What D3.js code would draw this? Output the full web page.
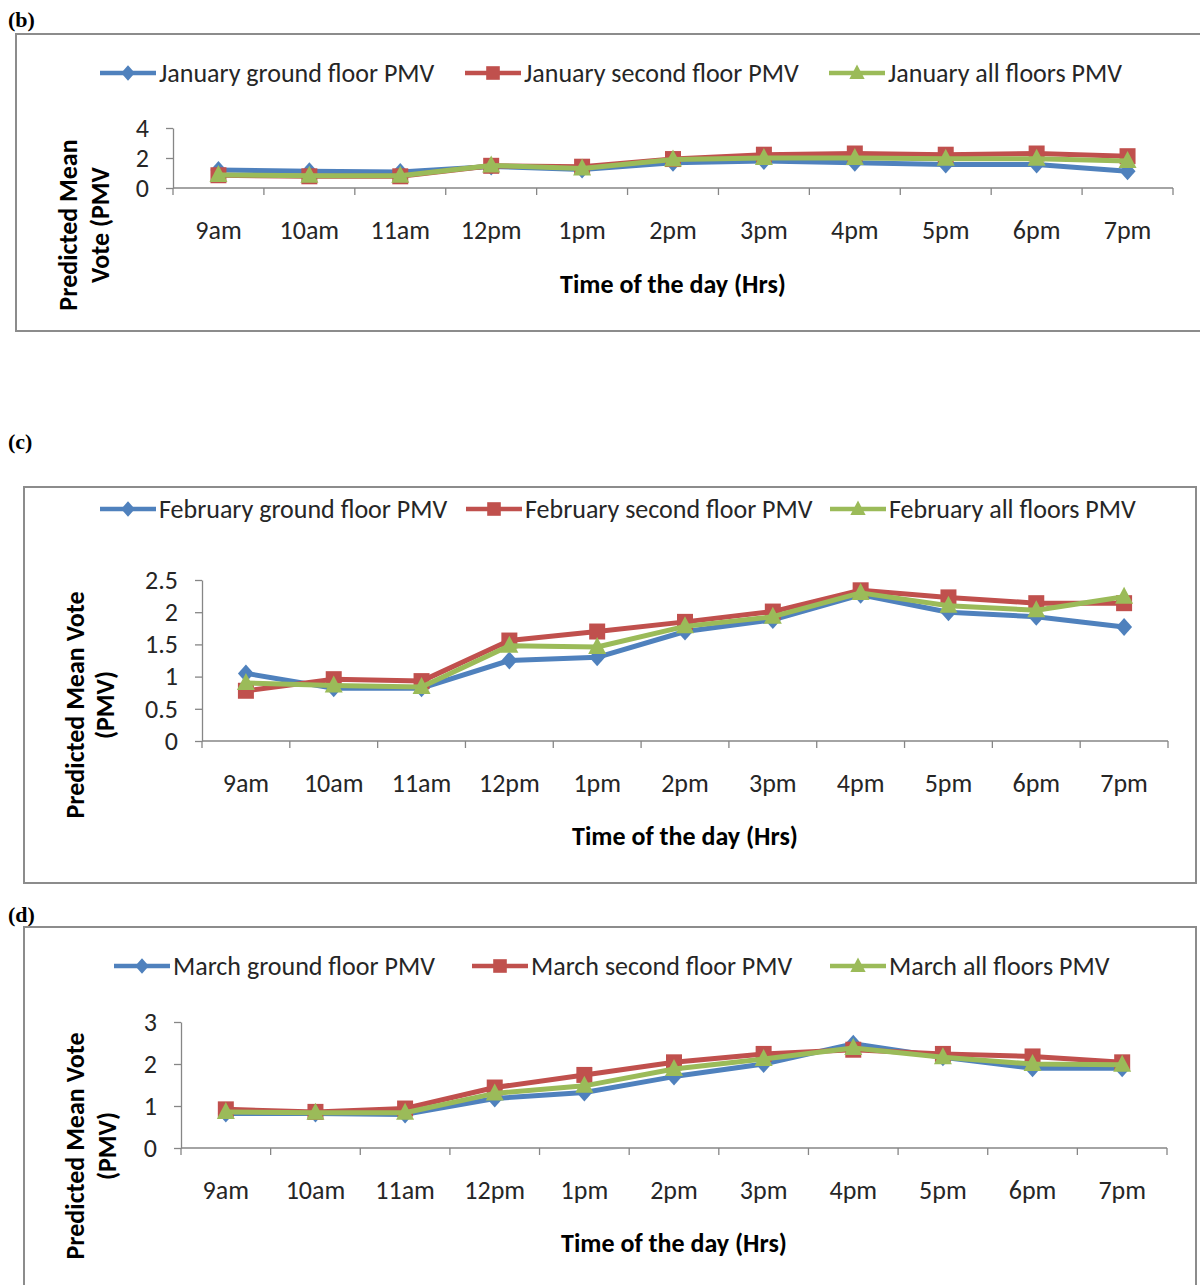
<!DOCTYPE html>
<html>
<head>
<meta charset="utf-8">
<script src="https://cdn.jsdelivr.net/npm/d3@7"></script>
<style>
  html, body { margin: 0; padding: 0; background: #fff; }
  svg { display: block; }
</style>
</head>
<body>
<svg id="chart" width="1200" height="1285"></svg>
<script>
// Hours of the survey day
const hours = ["9am", "10am", "11am", "12pm", "1pm", "2pm", "3pm", "4pm", "5pm", "6pm", "7pm"];

// January PMV
const janGround = [1.20, 1.12, 1.07, 1.44, 1.24, 1.69, 1.80, 1.69, 1.57, 1.57, 1.12];
const janSecond = [0.85, 0.78, 0.78, 1.48, 1.42, 1.93, 2.22, 2.30, 2.22, 2.30, 2.12];
const janAll    = [0.86, 0.82, 0.82, 1.50, 1.30, 1.90, 2.00, 2.00, 1.95, 1.95, 1.80];
const janTicks  = [0, 2, 4];

// February PMV
const febGround = [1.05, 0.82, 0.82, 1.25, 1.30, 1.70, 1.88, 2.27, 2.00, 1.93, 1.77];
const febSecond = [0.78, 0.96, 0.93, 1.56, 1.70, 1.85, 2.01, 2.34, 2.23, 2.14, 2.14];
const febAll    = [0.90, 0.86, 0.84, 1.48, 1.46, 1.78, 1.93, 2.30, 2.10, 2.03, 2.24];
const febTicks  = [0, 0.5, 1, 1.5, 2, 2.5];

// March PMV
const marGround = [0.82, 0.82, 0.80, 1.18, 1.32, 1.70, 2.00, 2.48, 2.16, 1.90, 1.90];
const marSecond = [0.92, 0.86, 0.94, 1.44, 1.74, 2.04, 2.24, 2.34, 2.24, 2.18, 2.04];
const marAll    = [0.86, 0.84, 0.84, 1.30, 1.48, 1.88, 2.12, 2.38, 2.16, 2.00, 1.98];
const marTicks  = [0, 1, 2, 3];

const seriesColors = ["#4F81BD", "#C0504D", "#9BBB59"];
const markerKinds  = ["diamond", "square", "triangle"];
const axisGray = "#868686";
const FONT = "Carlito, Calibri, 'Open Sans', Lato, sans-serif";
const FS = "26px";
const FS_TITLE = "26px";

const svg = d3.select("#chart");

function markerPath(kind, legend) {
  const s = legend ? 0.85 : 1;
  if (kind === "diamond") return `M0,${-9 * s}L${8 * s},0L0,${9 * s}L${-8 * s},0Z`;
  if (kind === "square") return `M${-8 * s},${-8 * s}H${8 * s}V${8 * s}H${-8 * s}Z`;
  return `M0,${-10 * s}L${9 * s},${7 * s}H${-9 * s}Z`;
}

function drawPanel(cfg) {
  const g = svg.append("g");

  // panel letter
  g.append("text")
    .attr("x", cfg.tagX).attr("y", cfg.tagY)
    .style("font-family", "'Liberation Serif', 'Times New Roman', serif")
    .style("font-weight", "bold").style("font-size", "22px")
    .attr("fill", "#000")
    .text(cfg.tag);

  // chart frame
  g.append("rect")
    .attr("x", cfg.box[0]).attr("y", cfg.box[1])
    .attr("width", cfg.box[2]).attr("height", cfg.box[3])
    .attr("fill", "#fff").attr("stroke", "#8c8c8c").attr("stroke-width", 2);

  const x = d3.scaleBand().domain(hours).range([cfg.x0, cfg.x1]);
  const y = d3.scaleLinear().domain([0, d3.max(cfg.ticks)]).range([cfg.yBottom, cfg.yTop]);

  // y axis
  const ya = g.append("g").attr("transform", `translate(${cfg.x0},0)`)
    .call(d3.axisLeft(y).tickValues(cfg.ticks).tickSizeInner(7).tickSizeOuter(0).tickPadding(17)
      .tickFormat(d3.format("~g")));
  ya.select(".domain").attr("stroke", axisGray).attr("stroke-width", 1.3);
  ya.selectAll(".tick line").attr("stroke", axisGray).attr("stroke-width", 1.3);
  ya.selectAll(".tick text").style("font-family", FONT)
    .style("font-size", FS).attr("fill", "#262626");

  // x axis with ticks between categories
  const xa = g.append("g").attr("transform", `translate(0,${cfg.yBottom})`);
  xa.append("line").attr("x1", cfg.x0).attr("x2", cfg.x1)
    .attr("stroke", axisGray).attr("stroke-width", 1.3);
  const bounds = hours.map(h => x(h)).concat([cfg.x1]);
  xa.selectAll("line.tk").data(bounds).join("line").attr("class", "tk")
    .attr("x1", d => d).attr("x2", d => d).attr("y1", 0).attr("y2", 7)
    .attr("stroke", axisGray).attr("stroke-width", 1.3);
  xa.selectAll("text").data(hours).join("text")
    .attr("x", d => x(d) + x.bandwidth() / 2).attr("y", cfg.xLabelDy)
    .attr("text-anchor", "middle").attr("dominant-baseline", "central")
    .style("font-family", FONT).style("font-size", FS).attr("fill", "#262626")
    .text(d => d);

  // x axis title
  g.append("text")
    .attr("x", (cfg.x0 + cfg.x1) / 2).attr("y", cfg.xTitleY)
    .attr("text-anchor", "middle").attr("dominant-baseline", "central")
    .style("font-family", FONT).style("font-size", FS_TITLE).style("font-weight", "bold")
    .attr("fill", "#000").text("Time of the day (Hrs)");

  // y axis title (two lines)
  cfg.yTitle.forEach((t, i) => {
    g.append("text")
      .attr("transform", `translate(${cfg.yTitleX[i]},${cfg.yTitleCy}) rotate(-90)`)
      .attr("text-anchor", "middle").attr("dominant-baseline", "central")
      .style("font-family", FONT).style("font-size", FS_TITLE).style("font-weight", "bold")
      .attr("fill", "#000").text(t);
  });

  // series lines and markers
  const line = d3.line()
    .x((d, i) => x(hours[i]) + x.bandwidth() / 2)
    .y(d => y(d));
  cfg.series.forEach((s, k) => {
    const sg = g.append("g");
    sg.append("path").datum(s.values)
      .attr("d", line).attr("fill", "none")
      .attr("stroke", seriesColors[k]).attr("stroke-width", 5)
      .attr("stroke-linejoin", "round");
    sg.selectAll("path.mk").data(s.values).join("path").attr("class", "mk")
      .attr("d", markerPath(markerKinds[k], false))
      .attr("transform", (d, i) => `translate(${x(hours[i]) + x.bandwidth() / 2},${y(d)})`)
      .attr("fill", seriesColors[k]);
  });

  // legend
  cfg.series.forEach((s, k) => {
    const lx = cfg.legendX[k];
    const lg = g.append("g").attr("transform", `translate(${lx},${cfg.legendY})`);
    lg.append("line").attr("x1", 0).attr("x2", 56)
      .attr("stroke", seriesColors[k]).attr("stroke-width", 4.5);
    lg.append("path").attr("d", markerPath(markerKinds[k], true))
      .attr("transform", "translate(28,0)").attr("fill", seriesColors[k]);
    lg.append("text").attr("x", 59).attr("y", 0)
      .attr("dominant-baseline", "central")
      .style("font-family", FONT).style("font-size", FS).attr("fill", "#262626")
      .text(s.name);
  });
}

drawPanel({
  tag: "(b)", tagX: 8, tagY: 27,
  box: [16, 34, 1200, 297],
  x0: 173, x1: 1173, yTop: 128, yBottom: 188,
  ticks: janTicks, xLabelDy: 42, xTitleY: 284,
  yTitle: ["Predicted Mean", "Vote (PMV"], yTitleX: [68, 100], yTitleCy: 225,
  legendX: [100, 465, 829], legendY: 73,
  series: [
    { name: "January ground floor PMV", values: janGround },
    { name: "January second floor PMV", values: janSecond },
    { name: "January all floors PMV", values: janAll }
  ]
});

drawPanel({
  tag: "(c)", tagX: 8, tagY: 449,
  box: [24, 487, 1172, 396],
  x0: 202, x1: 1168, yTop: 580, yBottom: 741,
  ticks: febTicks, xLabelDy: 42, xTitleY: 836,
  yTitle: ["Predicted Mean Vote", "(PMV)"], yTitleX: [75, 105], yTitleCy: 705,
  legendX: [100, 466, 830], legendY: 509,
  series: [
    { name: "February ground floor PMV", values: febGround },
    { name: "February second floor PMV", values: febSecond },
    { name: "February all floors PMV", values: febAll }
  ]
});

drawPanel({
  tag: "(d)", tagX: 8, tagY: 922,
  box: [24, 927, 1172, 400],
  x0: 181, x1: 1167, yTop: 1022, yBottom: 1148,
  ticks: marTicks, xLabelDy: 42, xTitleY: 1243,
  yTitle: ["Predicted Mean Vote", "(PMV)"], yTitleX: [75, 107], yTitleCy: 1146,
  legendX: [114, 472, 830], legendY: 966,
  series: [
    { name: "March ground floor PMV", values: marGround },
    { name: "March second floor PMV", values: marSecond },
    { name: "March all floors PMV", values: marAll }
  ]
});
</script>
</body>
</html>
